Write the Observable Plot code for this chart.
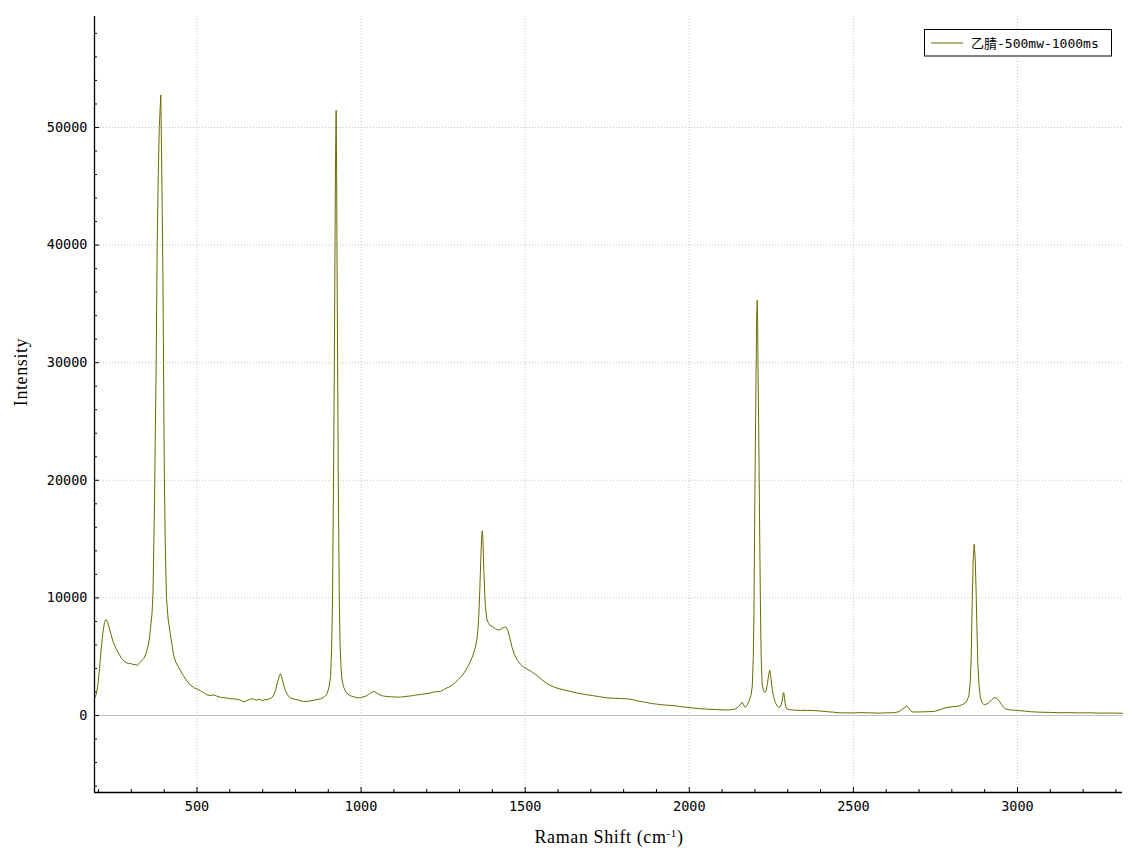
<!DOCTYPE html>
<html>
<head>
<meta charset="utf-8">
<script src="https://cdn.jsdelivr.net/npm/d3@7"></script>
<script src="https://cdn.jsdelivr.net/npm/@observablehq/plot@0.6"></script>
<style>
  html, body { margin: 0; padding: 0; background: #fff; }
  #chart { position: relative; width: 1141px; height: 857px; }
</style>
</head>
<body>
<div id="chart"></div>
<script>
// ---- data ----
const seriesName = "乙腈-500mw-1000ms";
const xLabel = "Raman Shift (cm";
const yLabel = "Intensity";

const shift = [
  188,193,198,203,208,213,218,222,227,232,238,244,250,257,264,270,277,284,291,297,
  304,311,318,324,331,338,345,350,355,359,363,366,370.5,373,375.7,378.7,382,385,389.7,392,
  394,396,398,400,403,407,412,419,424,429,436,444,452,458,465,472,479,485,492,500,
  511,520,531,540,550,560,571,581,592,602,612,622,633,643,650,660,667,673,680,690,
  700,707,714,720,727,734,740,745,750,754,758,762,766,770,775,780,785,795,805,815,
  825,836,846,856,866,876,886,892,897,902,907,910,913,916,918.5,920.5,922,924,925.5,926.5,
  928.5,930.5,933.5,936,939,942,947,953,960,968,975,983,990,998,1006,1015,1023,1031,1039,1046,
  1054,1061,1069,1077,1085,1093,1102,1110,1120,1130,1140,1150,1160,1171,1181,1191,1201,1212,1222,1232,
  1242,1252,1262,1270,1278,1287,1296,1305,1313,1320,1327,1333,1340,1345,1349,1353,1356,1359,1362,1365,
  1367,1369,1371,1374,1377,1379,1383,1389,1396,1404,1410,1416,1420,1426,1432,1437,1441,1447,1453,1460,
  1467,1476,1486,1496,1505,1515,1523,1531,1540,1550,1560,1567,1578,1590,1600,1615,1630,1645,1660,1675,
  1690,1705,1720,1735,1750,1765,1780,1795,1811,1826,1840,1855,1870,1885,1900,1915,1930,1953,1970,1990,
  2010,2030,2050,2070,2090,2110,2125,2141,2152,2161,2167,2171,2177,2183,2188,2192,2195,2197,2199,2201,
  2203.5,2205.5,2207,2208.5,2209.7,2212,2214,2216.5,2219,2222,2226,2230,2234,2238,2242,2245,2248,2251,2254,2257,
  2262,2268,2273,2276,2280,2284,2286,2288,2290,2293,2296,2305,2320,2340,2360,2379,2400,2420,2440,2461,
  2480,2500,2520,2542,2560,2580,2600,2623,2640,2650,2657,2662,2667,2673,2679,2700,2720,2745,2760,2775,
  2790,2806,2820,2830,2840,2846,2852,2856,2859,2862,2865,2868,2871,2874,2876,2879,2883,2887,2893,2899,
  2907,2915,2923,2928,2933,2938,2945,2952,2958,2963,2975,2990,2999,3020,3040,3070,3100,3130,3160,3190,
  3220,3250,3280,3300,3320
];
const intensity = [
  1450,1800,2600,4000,5600,7000,7900,8150,8000,7500,6900,6300,5900,5500,5150,4850,4650,4500,4420,4420,
  4350,4330,4260,4450,4650,4850,5300,5800,6500,7600,8700,10500,18000,24000,30000,40000,46000,50000,52770,48000,
  43000,38000,30000,22000,15000,10000,8200,6900,6000,5100,4500,4100,3700,3400,3100,2850,2600,2500,2350,2250,
  2100,1950,1750,1700,1750,1650,1550,1520,1480,1420,1420,1380,1300,1150,1250,1350,1420,1400,1300,1380,
  1280,1350,1330,1420,1500,1750,2200,2800,3300,3550,3300,2800,2400,2100,1800,1600,1500,1400,1350,1250,
  1200,1200,1250,1300,1350,1420,1550,1700,1900,2400,3300,5500,10000,20000,30000,40000,47000,51450,46000,40000,
  30000,20000,10000,6000,4000,3000,2400,2050,1800,1680,1600,1560,1500,1520,1580,1650,1800,1950,2050,1950,
  1800,1700,1650,1620,1600,1590,1570,1560,1570,1600,1630,1660,1700,1760,1780,1830,1870,1920,2000,2030,
  2050,2200,2350,2450,2600,2800,3050,3300,3600,3900,4250,4600,5050,5500,5900,6500,7300,8700,10900,13500,
  15000,15700,15200,12300,10200,9200,8200,7800,7600,7500,7350,7300,7250,7350,7450,7500,7520,7250,6600,5800,
  5200,4700,4350,4100,3950,3800,3650,3500,3300,3050,2850,2700,2550,2400,2300,2200,2100,2000,1900,1820,
  1750,1700,1620,1560,1500,1480,1460,1430,1420,1360,1250,1180,1100,1020,970,920,880,840,770,700,
  640,580,550,520,490,470,480,560,800,1130,800,700,900,1300,1700,2500,5000,8500,16000,22000,
  29000,34000,35300,33000,29000,23000,17000,10000,5000,2700,2100,1950,2100,2700,3500,3850,3400,2600,2000,1600,
  1100,800,700,700,900,1400,1900,1950,1500,900,580,500,450,430,440,420,380,320,280,220,
  230,210,250,230,220,200,230,230,330,550,720,800,700,450,300,300,320,340,450,620,
  700,760,800,900,1050,1250,1700,2800,5000,9500,13200,14550,13500,10500,8000,4500,2500,1500,1050,910,
  980,1150,1380,1500,1520,1420,1200,900,700,570,480,450,420,380,320,280,260,230,240,220,
  230,200,210,200,190
];

const xDomain = [187.7, 3320];
const yDomain = [-6548, 59437];
const xMajor = [500, 1000, 1500, 2000, 2500, 3000];
const xMinor = d3.range(200, 3301, 100).filter(v => v % 500 !== 0);
const yMajor = [0, 10000, 20000, 30000, 40000, 50000];
const yMinor = d3.range(-6000, 58001, 2000).filter(v => v % 10000 !== 0);

const lineColor = "#6b6b00";
const gridColor = "#c4c4c4";

const data = shift.map((s, i) => ({shift: s, intensity: intensity[i]}));

const W = 1141, H = 857;
const mL = 94, mT = 16, mR = 19, mB = 65;
const plotW = W - mL - mR, plotH = H - mT - mB;

const plot = Plot.plot({
  width: W,
  height: H,
  marginLeft: mL,
  marginTop: mT,
  marginRight: mR,
  marginBottom: mB,
  style: {fontFamily: "'DejaVu Sans Mono', monospace", fontSize: "13.5px", color: "#000", background: "#fff"},
  x: {domain: xDomain, ticks: xMajor, tickSize: 0, tickPadding: 9, tickFormat: d3.format("d"), label: null},
  y: {domain: yDomain, ticks: yMajor, tickSize: 0, tickPadding: 7, tickFormat: d3.format("d"), label: null},
  marks: [
    Plot.ruleX(xMajor, {stroke: gridColor, strokeDasharray: "1,2"}),
    Plot.ruleY(yMajor.filter(v => v !== 0), {stroke: gridColor, strokeDasharray: "1,2"}),
    Plot.ruleY([0], {stroke: "#c0c0c0", strokeWidth: 1}),
    Plot.tickX(xMinor, {stroke: "#000", insetTop: plotH - 3}),
    Plot.tickX(xMajor, {stroke: "#000", insetTop: plotH - 5}),
    Plot.tickY(yMinor, {stroke: "#000", insetRight: plotW - 3}),
    Plot.tickY(yMajor, {stroke: "#000", insetRight: plotW - 5}),
    Plot.line(data, {x: "shift", y: "intensity", stroke: lineColor, strokeWidth: 1}),
    Plot.ruleX([xDomain[0]], {stroke: "#000", strokeWidth: 1.3}),
    Plot.ruleY([yDomain[0]], {stroke: "#000", strokeWidth: 1.3})
  ]
});

document.getElementById("chart").appendChild(plot);

const svg = d3.select(plot);
const titleFont = "'Liberation Serif', serif";

// x axis title
const xt = svg.append("text")
  .attr("x", 609).attr("y", 843)
  .attr("text-anchor", "middle")
  .style("font-family", titleFont).style("font-size", "18px")
  .style("letter-spacing", "0.6px")
  .attr("fill", "#000");
xt.append("tspan").text(xLabel);
xt.append("tspan").attr("dy", -6).style("font-size", "11px").text("-1");
xt.append("tspan").attr("dy", 6).text(")");

// y axis title
svg.append("text")
  .attr("transform", "translate(27,372) rotate(-90)")
  .attr("text-anchor", "middle")
  .style("font-family", titleFont).style("font-size", "18px")
  .style("letter-spacing", "0.6px")
  .attr("fill", "#000")
  .text(yLabel);

// legend
const lg = svg.append("g");
lg.append("rect").attr("x", 924.5).attr("y", 29.5).attr("width", 187).attr("height", 26.5)
  .attr("fill", "#fff").attr("stroke", "#000").attr("stroke-width", 1);
lg.append("line").attr("x1", 931).attr("x2", 963).attr("y1", 43).attr("y2", 43)
  .attr("stroke", lineColor).attr("stroke-width", 1);
lg.append("text").attr("x", 971).attr("y", 47.5)
  .attr("text-anchor", "start")
  .style("text-anchor", "start")
  .style("font-family", "'DejaVu Sans Mono', 'Noto Sans CJK SC', monospace")
  .style("font-size", "13px").attr("fill", "#000")
  .text(seriesName);
</script>
</body>
</html>
